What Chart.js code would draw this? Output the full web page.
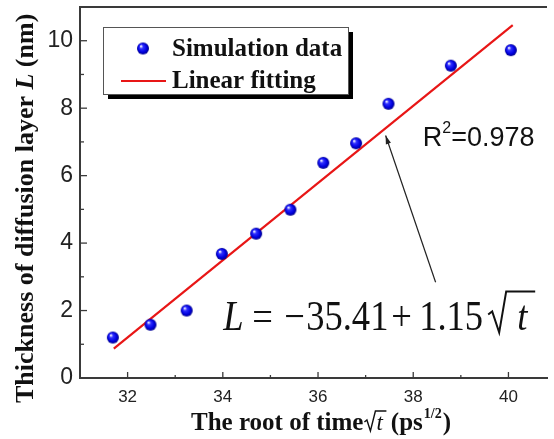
<!DOCTYPE html>
<html>
<head>
<meta charset="utf-8">
<script src="https://cdn.jsdelivr.net/npm/chart.js@4/dist/chart.umd.min.js"></script>
<style>
html,body{margin:0;padding:0;background:#fff;overflow:hidden;}
canvas{display:block;}
</style>
</head>
<body>
<canvas id="c" width="554" height="439"></canvas>
<script>
// ---- data ----
const simX = [31.69, 32.48, 33.24, 33.98, 34.70, 35.42, 36.11, 36.80, 37.48, 38.79, 40.05];
const simY = [1.20, 1.58, 2.00, 3.68, 4.28, 4.99, 6.38, 6.96, 8.13, 9.26, 9.72];
const fitX = [31.71, 40.09];
const fitY = [0.87, 10.46];
const xTickValues = [32, 34, 36, 38, 40];
const xMinorValues = [33, 35, 37, 39];
const yTickValues = [0, 2, 4, 6, 8, 10];
const yMinorValues = [1, 3, 5, 7, 9];
const seriesLabels = ['Simulation data', 'Linear fitting'];
const xTitle = 'The root of time';
const yTitleParts = ['Thickness of diffusion layer ', 'L', ' (nm)'];
const r2Text = ['R', '2', '=0.978'];
const eqParts = ['L', '=', '\u2212', '35.41', '+', '1.15', 't'];
const arrowTip = [37.42, 7.19];
const arrowTail = [38.47, 2.84];
const eqAnchor = [34.05, 1.41];
const r2Anchor = [38.20, 6.89];

const SERIF = '"Liberation Serif", "Times New Roman", serif';
const SANS = '"Liberation Sans", Arial, sans-serif';
const AXIS = '#3a3a3a';
const RED = 'rgb(232,22,22)';

// shiny blue sphere marker
function makeBall(r) {
  const s = r * 2 + 2;
  const cv = document.createElement('canvas');
  cv.width = s; cv.height = s;
  const g = cv.getContext('2d');
  const c = s / 2;
  const grad = g.createRadialGradient(c - r * 0.35, c - r * 0.4, r * 0.1, c, c, r);
  grad.addColorStop(0, '#e6e6ff');
  grad.addColorStop(0.25, '#3030ff');
  grad.addColorStop(0.7, '#0000e0');
  grad.addColorStop(1, '#00008a');
  g.fillStyle = grad;
  g.beginPath(); g.arc(c, c, r, 0, Math.PI * 2); g.fill();
  return cv;
}
const ball = makeBall(6);

const simData = simX.map((x, i) => ({x, y: simY[i]}));
const fitData = fitX.map((x, i) => ({x, y: fitY[i]}));

const decor = {
  id: 'decor',
  afterDraw(chart) {
    const ctx = chart.ctx;
    const a = chart.chartArea;
    const xs = chart.scales.x, ys = chart.scales.y;
    ctx.save();
    // top frame line
    ctx.strokeStyle = AXIS; ctx.lineWidth = 2;
    ctx.beginPath(); ctx.moveTo(a.left - 1, a.top); ctx.lineTo(a.right, a.top); ctx.stroke();
    // inward ticks
    ctx.lineWidth = 1.3;
    const tick = (x1, y1, x2, y2) => { ctx.beginPath(); ctx.moveTo(x1, y1); ctx.lineTo(x2, y2); ctx.stroke(); };
    xTickValues.forEach(v => { const p = xs.getPixelForValue(v); tick(p, a.bottom, p, a.bottom - 6); });
    xMinorValues.forEach(v => { const p = xs.getPixelForValue(v); tick(p, a.bottom, p, a.bottom - 3); });
    yTickValues.forEach(v => { if (v === 0) return; const p = ys.getPixelForValue(v); tick(a.left, p, a.left + 7, p); });
    yMinorValues.forEach(v => { const p = ys.getPixelForValue(v); tick(a.left, p, a.left + 4, p); });

    // y title (rotated)
    ctx.save();
    ctx.translate(33, 403);
    ctx.rotate(-Math.PI / 2);
    ctx.fillStyle = '#111';
    ctx.textBaseline = 'alphabetic'; ctx.textAlign = 'left';
    let px = 0;
    ctx.font = 'bold 26px ' + SERIF;
    ctx.fillText(yTitleParts[0], px, 0); px += ctx.measureText(yTitleParts[0]).width;
    ctx.font = 'italic bold 26px ' + SERIF;
    ctx.fillText(yTitleParts[1], px, 0); px += ctx.measureText(yTitleParts[1]).width;
    ctx.font = 'bold 26px ' + SERIF;
    ctx.fillText(yTitleParts[2], px, 0);
    ctx.restore();

    // x title with sqrt(t) and superscript
    ctx.fillStyle = '#111';
    ctx.textAlign = 'left'; ctx.textBaseline = 'alphabetic';
    let tx = 191, tb = 430;
    ctx.font = 'bold 25px ' + SERIF;
    ctx.fillText(xTitle, tx, tb); tx += ctx.measureText(xTitle).width + 1;
    ctx.strokeStyle = '#111'; ctx.lineWidth = 1.4;
    ctx.beginPath();
    ctx.moveTo(tx, tb - 8); ctx.lineTo(tx + 2.5, tb - 10); ctx.lineTo(tx + 6, tb + 1);
    ctx.lineTo(tx + 11, tb - 19); ctx.lineTo(tx + 22, tb - 19);
    ctx.stroke();
    ctx.font = 'italic 23px ' + SERIF;
    ctx.fillText('t', tx + 12, tb); tx += 12 + ctx.measureText('t').width + 8;
    ctx.font = 'bold 25px ' + SERIF;
    ctx.fillText('(ps', tx, tb); tx += ctx.measureText('(ps').width + 1;
    ctx.font = 'bold 14px ' + SERIF;
    ctx.fillText('1/2', tx, tb - 12); tx += ctx.measureText('1/2').width + 1;
    ctx.font = 'bold 25px ' + SERIF;
    ctx.fillText(')', tx, tb);

    // legend box with shadow
    const lx = 103, ly = 27, lw = 245, lh = 67;
    ctx.fillStyle = '#000';
    ctx.fillRect(lx + 5, ly + lh, lw, 5);
    ctx.fillRect(lx + lw, ly + 5, 5, lh);
    ctx.fillStyle = '#fff';
    ctx.fillRect(lx, ly, lw, lh);
    ctx.strokeStyle = '#555'; ctx.lineWidth = 1;
    ctx.strokeRect(lx + 0.5, ly + 0.5, lw, lh);
    ctx.drawImage(ball, 143 - ball.width / 2, 48.5 - ball.height / 2);
    ctx.strokeStyle = RED; ctx.lineWidth = 2.2;
    ctx.beginPath(); ctx.moveTo(121, 81); ctx.lineTo(166, 81); ctx.stroke();
    ctx.fillStyle = '#111';
    ctx.font = 'bold 25px ' + SERIF;
    ctx.fillText(seriesLabels[0], 172, 55.5);
    ctx.fillText(seriesLabels[1], 172, 88);

    // R^2 annotation
    let rx = xs.getPixelForValue(r2Anchor[0]), ry = ys.getPixelForValue(r2Anchor[1]);
    ctx.font = '27px ' + SANS;
    ctx.fillText(r2Text[0], rx, ry); rx += ctx.measureText(r2Text[0]).width;
    ctx.font = '16px ' + SANS;
    ctx.fillText(r2Text[1], rx, ry - 13); rx += ctx.measureText(r2Text[1]).width;
    ctx.font = '27px ' + SANS;
    ctx.fillText(r2Text[2], rx, ry);

    // arrow
    const tipX = xs.getPixelForValue(arrowTip[0]), tipY = ys.getPixelForValue(arrowTip[1]);
    const tlX = xs.getPixelForValue(arrowTail[0]), tlY = ys.getPixelForValue(arrowTail[1]);
    ctx.strokeStyle = '#222'; ctx.lineWidth = 1.2;
    ctx.beginPath(); ctx.moveTo(tlX, tlY); ctx.lineTo(tipX, tipY); ctx.stroke();
    const ang = Math.atan2(tipY - tlY, tipX - tlX);
    ctx.fillStyle = '#222';
    ctx.beginPath();
    ctx.moveTo(tipX, tipY);
    ctx.lineTo(tipX - 9 * Math.cos(ang - 0.3), tipY - 9 * Math.sin(ang - 0.3));
    ctx.lineTo(tipX - 9 * Math.cos(ang + 0.3), tipY - 9 * Math.sin(ang + 0.3));
    ctx.closePath(); ctx.fill();

    // equation: pieces placed with math-style spacing, slightly condensed serif
    const ex = xs.getPixelForValue(eqAnchor[0]), eb = ys.getPixelForValue(eqAnchor[1]);
    const sx = 0.87, k = 1 / sx;
    ctx.save();
    ctx.translate(ex, eb);
    ctx.scale(sx, 1);
    ctx.fillStyle = '#111';
    ctx.font = 'italic 42px ' + SERIF;
    ctx.fillText(eqParts[0], -2 * k, 0);
    ctx.font = '42px ' + SERIF;
    ctx.fillText(eqParts[1], 27 * k, 0);
    ctx.fillText(eqParts[2], 59 * k, 0);
    ctx.fillText(eqParts[3], 81 * k, 0);
    ctx.fillText(eqParts[4], 166 * k, 0);
    ctx.fillText(eqParts[5], 194 * k, 0);
    ctx.font = 'italic 42px ' + SERIF;
    ctx.fillText(eqParts[6], 292 * k, 0);
    ctx.restore();
    ctx.strokeStyle = '#111'; ctx.lineWidth = 2;
    ctx.lineJoin = 'miter';
    ctx.beginPath();
    ctx.moveTo(ex + 263, eb - 16); ctx.lineTo(ex + 267, eb - 19); ctx.lineTo(ex + 274, eb + 2);
    ctx.lineTo(ex + 281, eb - 39); ctx.lineTo(ex + 310, eb - 39);
    ctx.stroke();
    ctx.restore();
  }
};

new Chart(document.getElementById('c'), {
  type: 'scatter',
  data: {
    datasets: [
      {
        label: seriesLabels[1],
        data: fitData,
        showLine: true,
        borderColor: RED,
        borderWidth: 2.2,
        pointRadius: 0,
        fill: false,
        order: 2
      },
      {
        label: seriesLabels[0],
        data: simData,
        pointStyle: ball,
        pointRadius: 6,
        order: 1
      }
    ]
  },
  options: {
    responsive: false,
    animation: false,
    devicePixelRatio: 1,
    layout: {padding: {top: 7, right: 2, left: 0, bottom: 0}},
    plugins: {legend: {display: false}, tooltip: {enabled: false}},
    scales: {
      x: {
        type: 'linear', min: 31, max: 40.81,
        grid: {display: false, drawTicks: false},
        border: {display: true, color: AXIS, width: 2},
        afterBuildTicks: s => { s.ticks = xTickValues.map(v => ({value: v})); },
        afterFit: s => { s.height = 61; s.paddingLeft = 0; s.paddingRight = 0; },
        ticks: {padding: 9, color: '#222', font: {family: SANS, size: 17}, maxRotation: 0, autoSkip: false}
      },
      y: {
        type: 'linear', min: 0, max: 11,
        grid: {display: false, drawTicks: false},
        border: {display: true, color: AXIS, width: 2},
        afterBuildTicks: s => { s.ticks = yTickValues.map(v => ({value: v})); },
        afterFit: s => { s.width = 80; s.paddingTop = 0; s.paddingBottom = 0; },
        ticks: {padding: 7, color: '#222', font: {family: SANS, size: 23}, autoSkip: false}
      }
    }
  },
  plugins: [decor]
});
</script>
</body>
</html>
